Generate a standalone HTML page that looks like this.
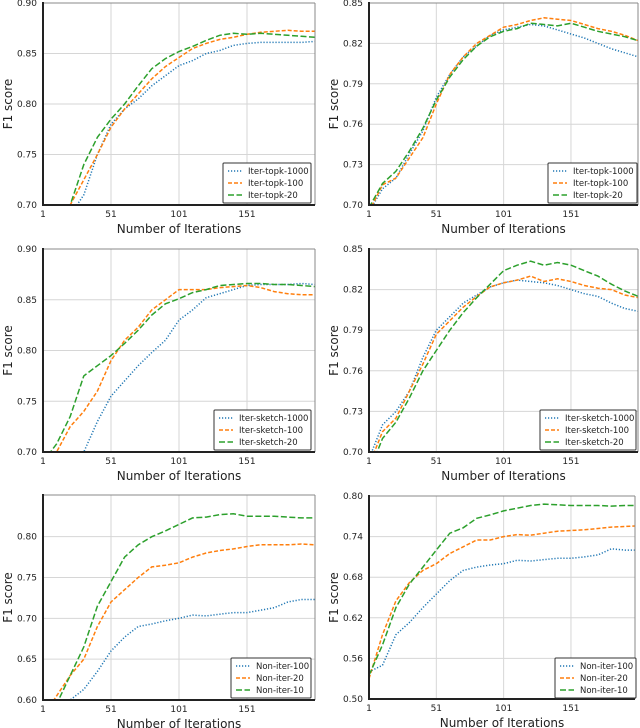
<!DOCTYPE html>
<html><head><meta charset="utf-8">
<style>
html,body{margin:0;padding:0;background:#fff;}
svg{display:block;font-family:"DejaVu Sans","Liberation Sans",sans-serif;}
</style></head>
<body>
<svg id="chart" width="640" height="728" viewBox="0 0 640 728" xmlns="http://www.w3.org/2000/svg"></svg>
<script>
// ---- data (x = iteration) ----
const iterations = [1,11,21,31,41,51,61,71,81,91,101,111,121,131,141,151,161,171,181,191,201];
const xTickLabels = ["1","51","101","151"];

const topkLeftNames = ["Iter-topk-1000","Iter-topk-100","Iter-topk-20"];
const topkL1000 = [0.69,0.69,0.69,0.71,0.75,0.78,0.795,0.805,0.818,0.828,0.838,0.843,0.85,0.853,0.858,0.86,0.861,0.861,0.861,0.861,0.862];
const topkL100  = [0.69,0.69,0.70,0.725,0.75,0.777,0.795,0.81,0.825,0.837,0.846,0.855,0.86,0.864,0.866,0.869,0.871,0.872,0.873,0.872,0.872];
const topkL20   = [0.69,0.69,0.70,0.74,0.767,0.785,0.80,0.818,0.835,0.845,0.852,0.857,0.863,0.868,0.87,0.869,0.87,0.869,0.868,0.867,0.866];
const topkLTicks = ["0.70","0.75","0.80","0.85","0.90"];

const topkRightNames = ["Iter-topk-1000","Iter-topk-100","Iter-topk-20"];
const topkR1000 = [0.695,0.712,0.72,0.738,0.755,0.78,0.797,0.81,0.818,0.826,0.83,0.832,0.834,0.833,0.83,0.827,0.824,0.82,0.816,0.813,0.81];
const topkR100  = [0.695,0.715,0.72,0.735,0.75,0.775,0.797,0.81,0.82,0.826,0.832,0.834,0.837,0.839,0.838,0.837,0.834,0.831,0.829,0.826,0.822];
const topkR20   = [0.698,0.716,0.725,0.74,0.757,0.778,0.795,0.808,0.818,0.825,0.829,0.831,0.835,0.834,0.833,0.835,0.832,0.829,0.827,0.825,0.822];
const topkRTicks = ["0.70","0.73","0.76","0.79","0.82","0.85"];

const sketchLeftNames = ["Iter-sketch-1000","Iter-sketch-100","Iter-sketch-20"];
const sketchL1000 = [0.69,0.69,0.69,0.70,0.73,0.755,0.77,0.785,0.798,0.81,0.83,0.84,0.852,0.856,0.86,0.864,0.865,0.865,0.865,0.866,0.865];
const sketchL100  = [0.69,0.70,0.725,0.74,0.76,0.79,0.81,0.823,0.84,0.85,0.86,0.86,0.86,0.862,0.863,0.864,0.862,0.858,0.856,0.855,0.855];
const sketchL20   = [0.69,0.708,0.735,0.775,0.785,0.795,0.807,0.82,0.835,0.846,0.851,0.857,0.86,0.864,0.865,0.866,0.866,0.865,0.865,0.864,0.863];
const sketchLTicks = ["0.70","0.75","0.80","0.85","0.90"];

const sketchRightNames = ["Iter-sketch-1000","Iter-sketch-100","Iter-sketch-20"];
const sketchR1000 = [0.695,0.72,0.73,0.745,0.77,0.79,0.80,0.81,0.816,0.822,0.825,0.827,0.826,0.825,0.823,0.82,0.817,0.815,0.81,0.806,0.804];
const sketchR100  = [0.69,0.715,0.725,0.745,0.765,0.787,0.797,0.807,0.815,0.822,0.825,0.827,0.83,0.826,0.828,0.826,0.823,0.821,0.82,0.816,0.814];
const sketchR20   = [0.685,0.71,0.722,0.74,0.76,0.775,0.79,0.803,0.814,0.824,0.834,0.838,0.841,0.838,0.84,0.838,0.834,0.83,0.824,0.819,0.815];
const sketchRTicks = ["0.70","0.73","0.76","0.79","0.82","0.85"];

const nonLeftNames = ["Non-iter-100","Non-iter-20","Non-iter-10"];
const nonL100 = [0.58,0.585,0.60,0.613,0.635,0.66,0.677,0.69,0.693,0.697,0.70,0.704,0.703,0.705,0.707,0.707,0.71,0.713,0.72,0.723,0.723];
const nonL20  = [0.58,0.605,0.63,0.65,0.69,0.72,0.735,0.75,0.763,0.765,0.768,0.775,0.78,0.783,0.785,0.788,0.79,0.79,0.79,0.791,0.79];
const nonL10  = [0.58,0.595,0.63,0.665,0.715,0.745,0.775,0.79,0.80,0.807,0.815,0.823,0.824,0.827,0.828,0.825,0.825,0.825,0.824,0.823,0.823];
const nonLTicks = ["0.60","0.65","0.70","0.75","0.80"];

const nonRightNames = ["Non-iter-100","Non-iter-20","Non-iter-10"];
const nonR100 = [0.54,0.55,0.595,0.613,0.635,0.655,0.675,0.69,0.695,0.698,0.70,0.705,0.704,0.706,0.708,0.708,0.71,0.713,0.722,0.72,0.72];
const nonR20  = [0.53,0.595,0.645,0.672,0.69,0.70,0.715,0.725,0.735,0.735,0.74,0.743,0.742,0.745,0.748,0.749,0.75,0.752,0.754,0.755,0.756];
const nonR10  = [0.535,0.58,0.635,0.67,0.695,0.72,0.745,0.753,0.767,0.772,0.778,0.782,0.786,0.788,0.787,0.786,0.786,0.786,0.785,0.786,0.786];
const nonRTicks = ["0.50","0.56","0.62","0.68","0.74","0.80"];

const panels = [
 {id:"topk-left", x0:43,x1:315,y0:3,y1:205,min:0.70,max:0.90,ticks:topkLTicks,series:[topkL1000,topkL100,topkL20],names:topkLeftNames,leg:[223,163,88]},
 {id:"topk-right",x0:369,x1:638,y0:3,y1:205,min:0.70,max:0.85,ticks:topkRTicks,series:[topkR1000,topkR100,topkR20],names:topkRightNames,leg:[548,163,89]},
 {id:"sketch-left",x0:43,x1:315,y0:249,y1:452,min:0.70,max:0.90,ticks:sketchLTicks,series:[sketchL1000,sketchL100,sketchL20],names:sketchLeftNames,leg:[214,410,97]},
 {id:"sketch-right",x0:369,x1:638,y0:249,y1:452,min:0.70,max:0.85,ticks:sketchRTicks,series:[sketchR1000,sketchR100,sketchR20],names:sketchRightNames,leg:[540,410,96]},
 {id:"noniter-left",x0:43,x1:315,y0:495,y1:700,min:0.60,max:0.851,ticks:nonLTicks,series:[nonL100,nonL20,nonL10],names:nonLeftNames,leg:[231,658,80]},
 {id:"noniter-right",x0:369,x1:635,y0:496,y1:699,min:0.50,max:0.80,ticks:nonRTicks,series:[nonR100,nonR20,nonR10],names:nonRightNames,leg:[555,658,81]}
];
const colors=["#1f77b4","#ff7f0e","#2ca02c"];
const dashes=["1.2,1.8","4,2","6,2.5"];
const NS="http://www.w3.org/2000/svg";
const svg=document.getElementById("chart");
function mk(tag,attrs,parent){const e=document.createElementNS(NS,tag);for(const k in attrs)e.setAttribute(k,attrs[k]);(parent||svg).appendChild(e);return e;}

panels.forEach((p,pi)=>{
  const g=mk("g",{});
  
  
  const ppi=(p.x1-p.x0)/200*(pi%2===0?1:1);
  const xs=v=>p.x0+(v-1)*1.36*(p.x0<100?1:0.99);
  const ys=v=>p.y1-(v-p.min)/(p.max-p.min)*(p.y1-p.y0);
  // grid
  xTickLabels.forEach(t=>{
    const x=xs(+t);
    const gl=mk("line",{x1:x,x2:x,y1:p.y0,y2:p.y1,stroke:"#d6d6d6","stroke-width":1},g);
    
    
    const tl=mk("text",{x:x,y:p.y1+12,"font-size":9,"text-anchor":"middle",fill:"#222"},g);
    tl.textContent=t;
    
    
  });
  p.ticks.forEach(t=>{
    const y=ys(+t);
    const gl=mk("line",{x1:p.x0,x2:p.x1,y1:y,y2:y,stroke:"#d6d6d6","stroke-width":1},g);
    
    
    const tl=mk("text",{x:p.x0-6,y:y+3,"font-size":9,"text-anchor":"end",fill:"#222"},g);
    tl.textContent=t;
    
    
  });
  // clip
  const cp=mk("clipPath",{id:"clip"+pi},g);
  mk("rect",{x:p.x0,y:p.y0,width:p.x1-p.x0,height:p.y1-p.y0},cp);
  p.series.forEach((s,si)=>{
    const d=s.map((v,i)=>(i?"L":"M")+xs(iterations[i]).toFixed(1)+","+ys(v).toFixed(1)).join(" ");
    const ln=mk("path",{d:d,fill:"none",stroke:colors[si],"stroke-width":1.5,"stroke-dasharray":dashes[si],"clip-path":"url(#clip"+pi+")"},g);
    
    
  });
  // frame
  mk("line",{x1:p.x0,x2:p.x1,y1:p.y0,y2:p.y0,stroke:"#888","stroke-width":1},g);
  mk("line",{x1:p.x1,x2:p.x1,y1:p.y0,y2:p.y1,stroke:"#888","stroke-width":1},g);
  const la=mk("line",{x1:p.x0,x2:p.x0,y1:p.y0-1,y2:p.y1+1,stroke:"#222","stroke-width":2},g);
  
  
  const ba=mk("line",{x1:p.x0-1,x2:p.x1,y1:p.y1,y2:p.y1,stroke:"#222","stroke-width":2},g);
  
  
  // titles
  const xt=mk("text",{x:(p.x0+p.x1)/2,y:p.y1+28,"font-size":12,"text-anchor":"middle",fill:"#222"},g);
  xt.textContent="Number of Iterations";
  
  
  const cy=(p.y0+p.y1)/2, cx=p.x0-31;
  const yt=mk("text",{x:cx,y:cy,"font-size":12,"text-anchor":"middle",fill:"#222",transform:"rotate(-90 "+cx+" "+cy+")"},g);
  yt.textContent="F1 score";
  
  
  // legend
  const [lx,ly,lw]=p.leg;
  const lg=mk("g",{},g);
  
  
  mk("rect",{x:lx,y:ly,width:lw,height:40,fill:"#fff",stroke:"#333","stroke-width":1,rx:1},lg);
  p.names.forEach((n,si)=>{
    const yy=ly+8+si*12;
    mk("line",{x1:lx+5,x2:lx+19,y1:yy,y2:yy,stroke:colors[si],"stroke-width":1.5,"stroke-dasharray":dashes[si]},lg);
    const tx=mk("text",{x:lx+25,y:yy+3,"font-size":8.5,fill:"#222"},lg);
    tx.textContent=n;
    
    
  });
});
</script>
</body></html>
